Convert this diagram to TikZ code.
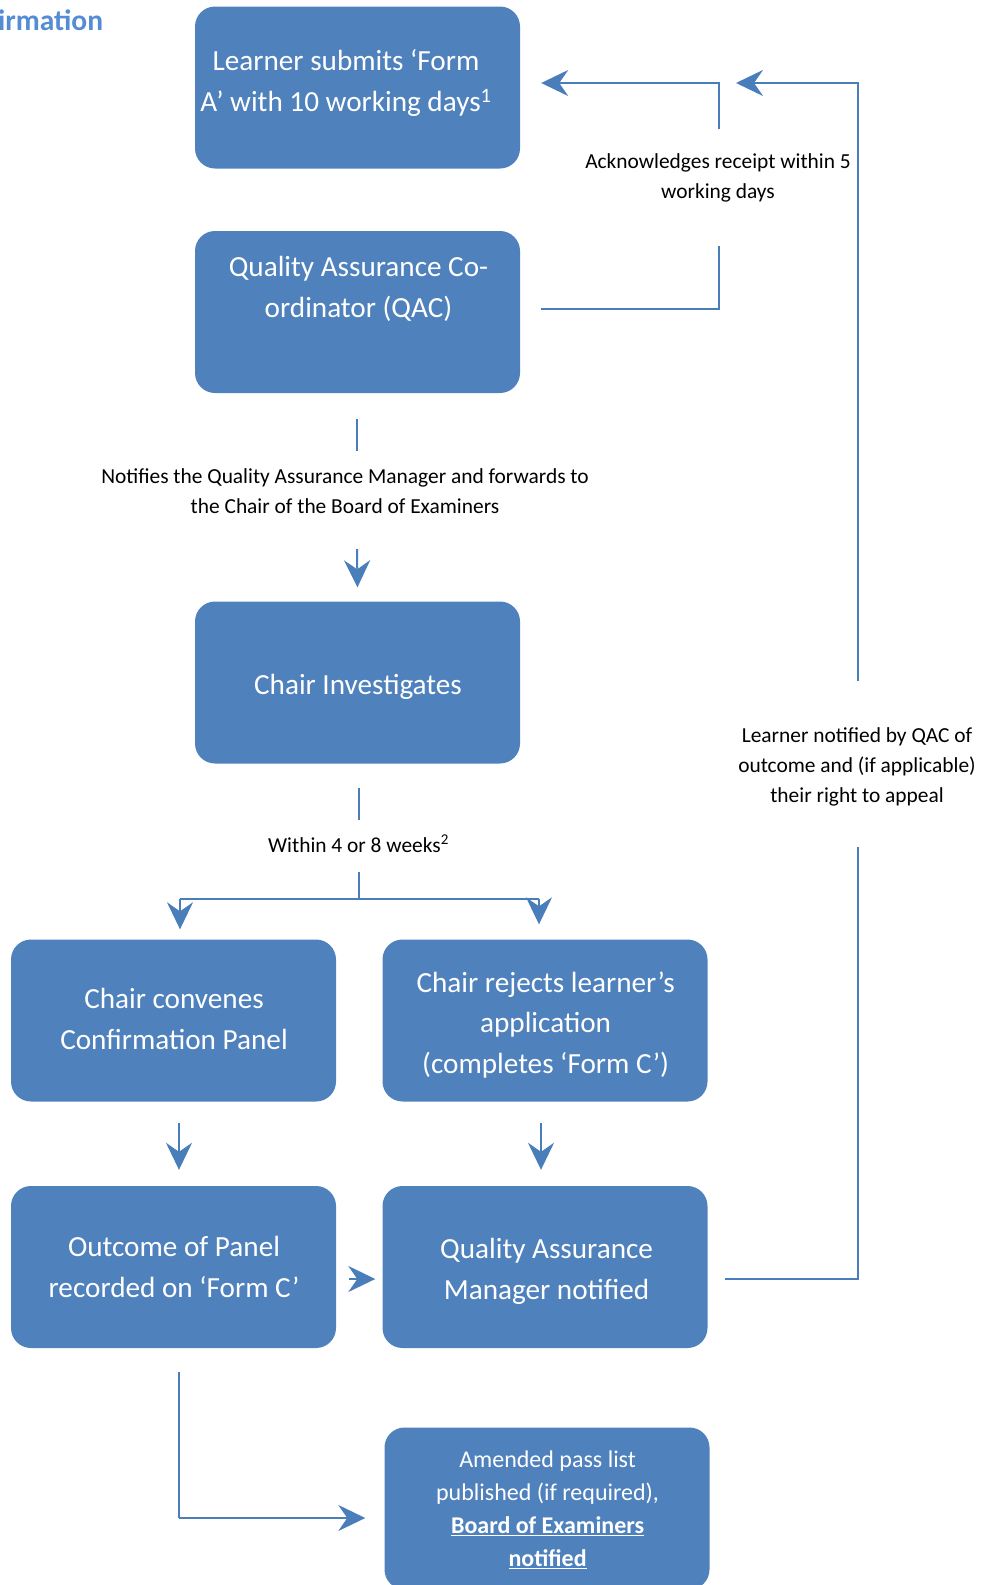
\documentclass[tikz,border=0pt]{standalone}
\usepackage{fontspec}
\setmainfont{Carlito}
\usetikzlibrary{arrows.meta}
\definecolor{boxblue}{RGB}{79,129,189}
\definecolor{lineblue}{RGB}{74,126,187}
\definecolor{titleblue}{RGB}{84,141,212}
\tikzset{
  box/.style={rounded corners=20pt, fill=boxblue, draw=none, minimum width=325pt, minimum height=162pt, inner sep=0pt},
  boxtext/.style={text=white, align=center, font=\fontsize{29.2}{40.5}\selectfont, inner sep=0pt},
  smalltext/.style={text=white, align=center, font=\fontsize{24}{33}\selectfont, inner sep=0pt},
  lbl/.style={text=black, align=center, font=\fontsize{21.4}{30}\selectfont, inner sep=0pt},
  conn/.style={draw=lineblue, line width=2pt},
  arr/.style={conn, -{Stealth[length=27pt,width=26pt,inset=9pt]}},
}
\begin{document}
\begin{tikzpicture}[x=1pt,y=-1pt]
\useasboundingbox (0,0) rectangle (981,1585);
% title fragment
\node[anchor=west, inner sep=0pt, text=titleblue, font=\fontsize{29.5}{30}\selectfont\bfseries] (title) at (-2,20) {irmation};
% boxes
\node[box] (b1) at (357.5,87.5) {};
\node[box] (b2) at (357.5,312) {};
\node[box] (b3) at (357.5,682.5) {};
\node[box] (b4) at (173.5,1020.5) {};
\node[box] (b5) at (545,1020.5) {};
\node[box] (b6) at (173.5,1267) {};
\node[box] (b7) at (545,1267) {};
\node[box] (b8) at (547,1508.5) {};
% box texts
\node[boxtext] (t1) at (346,83) {Learner submits ‘Form\\A’ with 10 working days\textsuperscript{1}};
\node[boxtext] (t2) at (358.5,289) {Quality Assurance Co-\\ordinator (QAC)};
\node[boxtext] (t3) at (358,686.5) {Chair Investigates};
\node[boxtext] (t4) at (174,1019) {Chair convenes\\Confirmation Panel};
\node[boxtext] (t5) at (545.6,1025) {Chair rejects learner’s\\application\\(completes ‘Form C’)};
\node[boxtext] (t6) at (174,1267) {Outcome of Panel\\recorded on ‘Form C’};
\node[boxtext] (t7) at (546.6,1271.5) {Quality Assurance\\Manager notified};
\node[smalltext] (t8) at (547.6,1509.5) {Amended pass list\\published (if required),\\\underline{\textbf{Board of Examiners}}\\\underline{\textbf{notified}}};
% labels
\node[lbl] (ack) at (718,178) {Acknowledges receipt within 5\\working days};
\node[lbl] (notif) at (857,766.5) {Learner notified by QAC of\\outcome and (if applicable)\\their right to appeal};
\node[lbl] (fwd) at (345,491) {Notifies the Quality Assurance Manager and forwards to\\the Chair of the Board of Examiners};
\node[lbl] (within) at (358.5,843.5) {Within 4 or 8 weeks\textsuperscript{2}};
% coordinates
\coordinate (a1) at (719,246);
\coordinate (a2) at (719,129);
\coordinate (r1) at (858,847);
\coordinate (r2) at (858,681);
\coordinate (r3) at (736,83);
\coordinate (n1) at (357,419);
\coordinate (n2) at (357,451);
\coordinate (n3) at (357,549);
\coordinate (w1) at (359,788);
\coordinate (w2) at (359,820);
\coordinate (w3) at (359,872);
\coordinate (w4) at (359,899);
\coordinate (wl) at (180,899);
\coordinate (wr) at (539,899);
\coordinate (d1) at (179,1123);
\coordinate (d2) at (541,1123);
\coordinate (e1) at (179,1372);
\coordinate (e2) at (179,1518);
% connectors
\draw[conn] ([xshift=21pt,yshift=3pt]b2.east) -| (a1);
\draw[arr] (a2) |- ([xshift=21pt,yshift=4.5pt]b1.east);
\draw[conn] ([xshift=17pt,yshift=-12pt]b7.east) -| (r1);
\draw[arr] (r2) |- (r3);
\draw[conn] (n1) -- (n2);
\draw[arr] (n3) -- ([yshift=14pt]b3.north);
\draw[conn] (w1) -- (w2);
\draw[conn] (w3) -- (w4);
\draw[conn] (wl) -- (wr);
\draw[arr] (wl) -- ([xshift=6.5pt,yshift=10pt]b4.north);
\draw[arr] (wr) -- ([xshift=-6pt,yshift=15pt]b5.north);
\draw[arr] (d1) -- ([xshift=5.5pt,yshift=16pt]b6.north);
\draw[arr] (d2) -- ([xshift=-4pt,yshift=16pt]b7.north);
\draw[arr] ([xshift=13pt,yshift=-12pt]b6.east) -- ([xshift=-7pt,yshift=-12pt]b7.west);
\draw[conn] (e1) -- (e2);
\draw[arr] (e2) -- ([xshift=-19pt,yshift=-9.5pt]b8.west);
\end{tikzpicture}
\end{document}
